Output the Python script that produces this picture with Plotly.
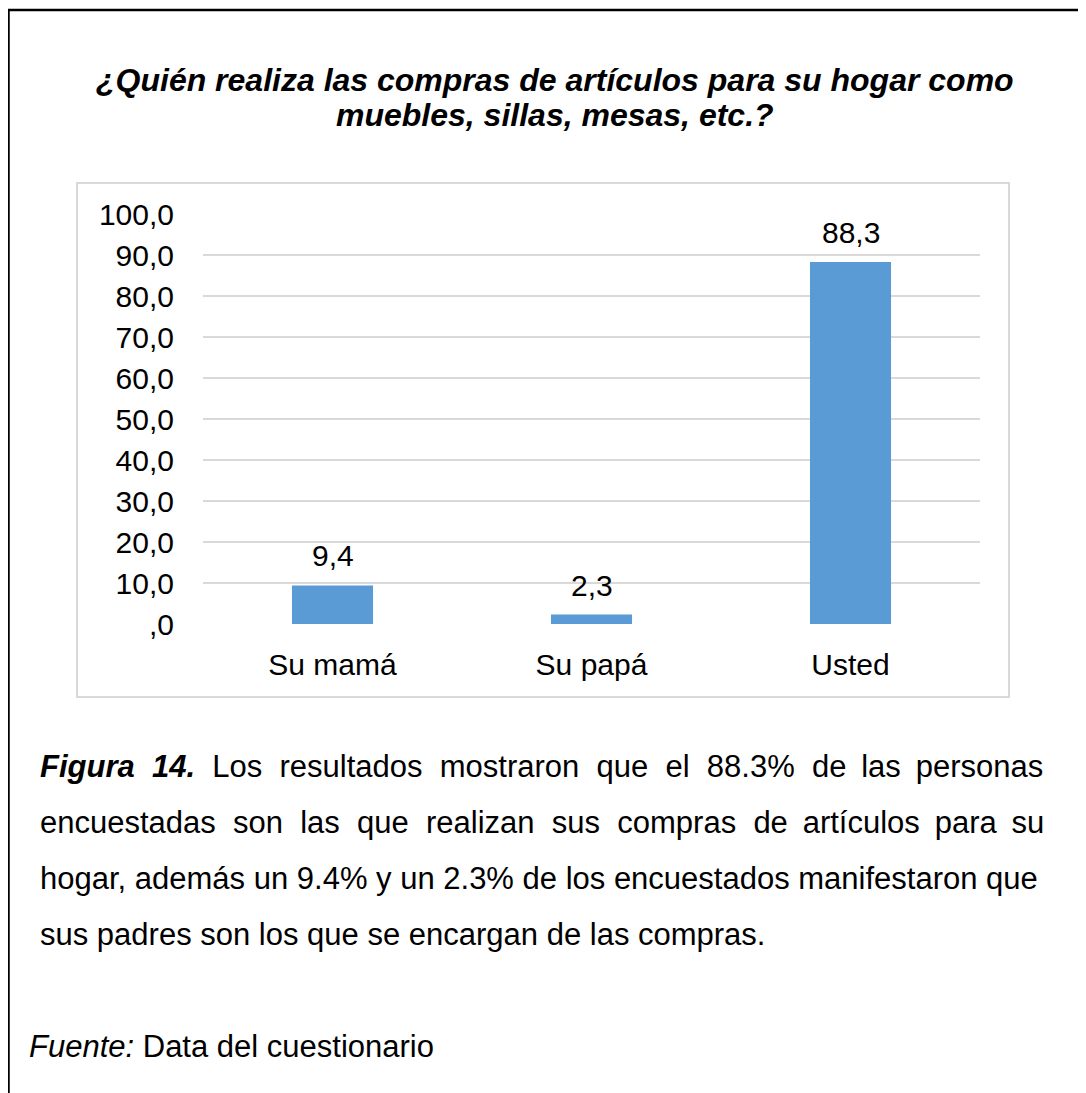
import plotly.graph_objects as go

# { data
categorias = ['Su mamá', 'Su papá', 'Usted']
porcentajes = [9.4, 2.3, 88.3]
etiquetas = ['9,4', '2,3', '88,3']
ticks_y = [0, 10, 20, 30, 40, 50, 60, 70, 80, 90, 100]
ticks_y_txt = [',0', '10,0', '20,0', '30,0', '40,0', '50,0',
               '60,0', '70,0', '80,0', '90,0', '100,0']
titulo = ['¿Quién realiza las compras de artículos para su hogar como',
          'muebles, sillas, mesas, etc.?']
parrafo = ['<b><i>Figura 14.</i></b> Los resultados mostraron que el 88.3% de las personas',
           'encuestadas son las que realizan sus compras de artículos para su',
           'hogar, además un 9.4% y un 2.3% de los encuestados manifestaron que',
           'sus padres son los que se encargan de las compras.']
# extra filler per gap for the justified lines: (no-break spaces, thin spaces)
relleno = [(8, 2), (7, 3), (0, 0), (0, 0)]
fuente = '<i>Fuente:</i> Data del cuestionario'
# }

# the page puts the figure 8px in from the window corner
OFF = 8
W, H = 1086 - OFF, 1093 - OFF
L, R, T, B = 203 - OFF, 106, 214 - OFF, 469
PW, PH = W - L - R, H - T - B


def px(x):
    return (x - OFF - L) / PW


def py(y):
    return (H - B - (y - OFF)) / PH


def justificar(linea, n_nbsp, n_thin):
    partes = linea.split(' ')
    out = partes[0]
    for k, p in enumerate(partes[1:]):
        extra = '\u00a0' if k < n_nbsp else ('\u2009' if k < n_nbsp + n_thin else '')
        out += ' ' + extra + p
    return out


FONT = 'Liberation Sans, Arial, sans-serif'

fig = go.Figure()
fig.add_trace(go.Bar(x=categorias, y=porcentajes,
                     marker=dict(color='#5b9bd5', line=dict(width=0)),
                     width=0.313, showlegend=False, hoverinfo='x+y'))

# value labels above the bars
for c, v, t in zip(categorias, porcentajes, etiquetas):
    fig.add_annotation(x=c, y=v, text=t, showarrow=False,
                       yanchor='bottom', yshift=11,
                       font=dict(size=30, family=FONT, color='#000000'))

fig.update_layout(
    width=W, height=H,
    margin=dict(l=L, r=R, t=T, b=B),
    paper_bgcolor='white', plot_bgcolor='white',
    font=dict(family=FONT, size=30, color='#000000'),
    xaxis=dict(showgrid=False, showline=False, ticks='',
               ticklabelstandoff=20, tickfont=dict(size=30)),
    yaxis=dict(range=[0, 100], tickvals=ticks_y, ticktext=ticks_y_txt,
               showgrid=True, gridcolor='#d9d9d9', gridwidth=1.5,
               zeroline=False, showline=False, ticks='',
               ticklabelstandoff=28, tickfont=dict(size=30)),
)

# chart box and outer frame
fig.add_shape(type='rect', xref='paper', yref='paper',
              x0=px(77), x1=px(1009), y0=py(183), y1=py(697),
              line=dict(color='#d9d9d9', width=2), layer='below')
fig.add_shape(type='line', xref='paper', yref='paper',
              x0=px(8.5), x1=px(8.5), y0=py(9), y1=py(1100),
              line=dict(color='#000000', width=2.5))
fig.add_shape(type='line', xref='paper', yref='paper',
              x0=px(7.5), x1=px(1100), y0=py(10), y1=py(10),
              line=dict(color='#000000', width=2.5))

# title
for i, linea in enumerate(titulo):
    fig.add_annotation(text='<b><i>' + linea + '</i></b>', xref='paper', yref='paper',
                       x=px(555), y=py(80 + i * 35), xanchor='center', yanchor='middle',
                       showarrow=False, font=dict(size=32, family=FONT))

# caption
for i, linea in enumerate(parrafo):
    linea = justificar(linea, *relleno[i])
    fig.add_annotation(text=linea, xref='paper', yref='paper',
                       x=px(38), y=py(766 + i * 56), xanchor='left', yanchor='middle',
                       showarrow=False, font=dict(size=31, family=FONT))

fig.add_annotation(text=fuente, xref='paper', yref='paper',
                   x=px(27), y=py(1046), xanchor='left', yanchor='middle',
                   showarrow=False, font=dict(size=31, family=FONT))

fig.write_html('out.html')
